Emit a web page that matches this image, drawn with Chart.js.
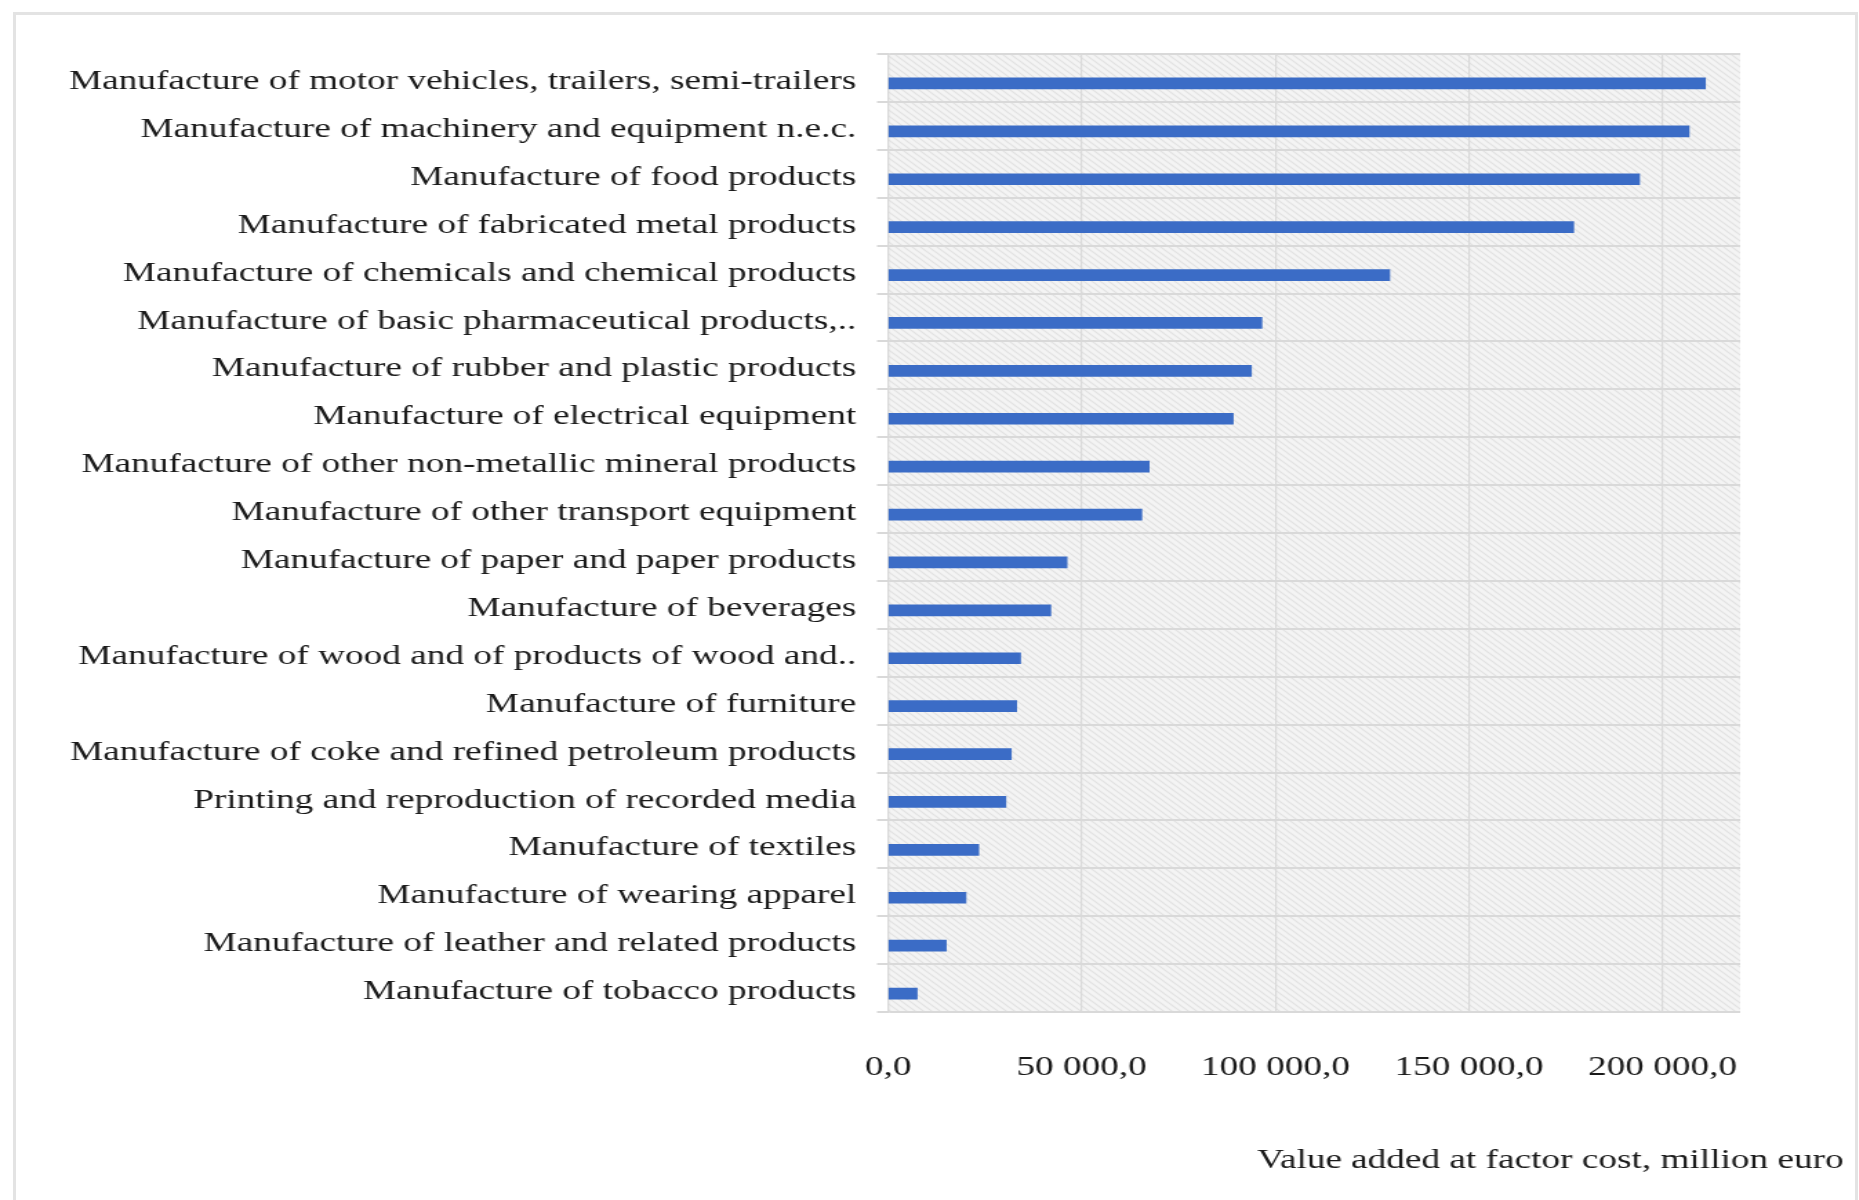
<!DOCTYPE html>
<html>
<head>
<meta charset="utf-8">
<script src="https://cdn.jsdelivr.net/npm/chart.js@4.4.1/dist/chart.umd.min.js"></script>
<style>
  body { margin: 0; background: #ffffff; width: 1859px; height: 1200px; overflow: hidden; position: relative; }
  #chart { position: absolute; left: 0; top: 0; transform: scaleX(1.38); transform-origin: 0 0; }
  #frame { position: absolute; left: 13px; top: 12px; width: 1839px; height: 1300px; border: 3px solid #e3e3e3; pointer-events: none; }
</style>
</head>
<body>
<canvas id="chart" width="1347" height="1200"></canvas>
<div id="frame"></div>
<script>
// industries, top to bottom
const categories = [
    'Manufacture of motor vehicles, trailers, semi-trailers',
    'Manufacture of machinery and equipment n.e.c.',
    'Manufacture of food products',
    'Manufacture of fabricated metal products',
    'Manufacture of chemicals and chemical products',
    'Manufacture of basic pharmaceutical products,..',
    'Manufacture of rubber and plastic products',
    'Manufacture of electrical equipment',
    'Manufacture of other non-metallic mineral products',
    'Manufacture of other transport equipment',
    'Manufacture of paper and paper products',
    'Manufacture of beverages',
    'Manufacture of wood and of products of wood and..',
    'Manufacture of furniture',
    'Manufacture of coke and refined petroleum products',
    'Printing and reproduction of recorded media',
    'Manufacture of textiles',
    'Manufacture of wearing apparel',
    'Manufacture of leather and related products',
    'Manufacture of tobacco products'
];

// value added at factor cost, million euro
const valueAdded = [
    211000, 206800, 194000, 177000, 129500,
    96500, 93800, 89100, 67400, 65500,
    46200, 42000, 34200, 33200, 31800,
    30400, 23400, 20100, 15000, 7500
];

// the source chart has an empty series slot above each bar, so bars sit a bit low
const emptySeries = [];

// value axis
const axisMin = 0;
const axisMax = 220000;
const tickValues = [0, 50000, 100000, 150000, 200000];
const axisTitle = 'Value added at factor cost, million euro';

const serif = 'Liberation Serif';
const textColor = '#1a1a1a';
const gridColor = '#d9d9d9';

function formatTick(v) {
    return String(v).replace(/\B(?=(\d{3})+(?!\d))/g, ' ') + ',0';
}

// hatched grey plot background
const tile = document.createElement('canvas');
tile.width = 6;
tile.height = 6;
const tc = tile.getContext('2d');
tc.fillStyle = '#f4f4f4';
tc.fillRect(0, 0, 6, 6);
tc.strokeStyle = '#e2e2e2';
tc.lineWidth = 1.2;
tc.beginPath();
tc.moveTo(-1, -1); tc.lineTo(7, 7);
tc.moveTo(-1, 5); tc.lineTo(1, 7);
tc.moveTo(5, -1); tc.lineTo(7, 1);
tc.stroke();

const plotBackground = {
    id: 'plotBackground',
    beforeDraw(chart) {
        const a = chart.chartArea;
        const ctx = chart.ctx;
        ctx.save();
        ctx.fillStyle = ctx.createPattern(tile, 'repeat');
        ctx.fillRect(a.left, a.top, a.right - a.left, a.bottom - a.top);
        ctx.restore();
    }
};

const ctx = document.getElementById('chart').getContext('2d');
new Chart(ctx, {
    type: 'bar',
    data: {
        labels: categories,
        datasets: [{
            label: '',
            data: emptySeries,
            barThickness: 11
        }, {
            label: axisTitle,
            data: valueAdded,
            backgroundColor: '#3b6cc6',
            borderWidth: 0,
            barThickness: 11
        }]
    },
    options: {
        indexAxis: 'y',
        responsive: false,
        animation: false,
        devicePixelRatio: 1,
        layout: {
            padding: { top: 54, left: 0, right: 11, bottom: 0 }
        },
        scales: {
            x: {
                type: 'linear',
                min: axisMin,
                max: axisMax,
                grid: {
                    color: gridColor,
                    lineWidth: 1.2,
                    drawTicks: false
                },
                border: { display: false },
                afterBuildTicks(scale) {
                    scale.ticks = tickValues.map(v => ({ value: v }));
                },
                ticks: {
                    padding: 40,
                    maxRotation: 0,
                    color: textColor,
                    font: { family: serif, size: 27 },
                    callback: v => formatTick(v)
                }
            },
            y: {
                type: 'category',
                offset: true,
                grid: {
                    color: gridColor,
                    lineWidth: 2,
                    offset: true,
                    tickLength: 8
                },
                border: { color: gridColor, width: 1.2 },
                ticks: {
                    padding: 15,
                    labelOffset: 4,
                    color: textColor,
                    autoSkip: false,
                    font: { family: serif, size: 27 }
                },
                afterFit(scale) { scale.width = 643.5; }
            },
            // empty axis that only keeps room on the right for the title
            spare: {
                type: 'linear',
                position: 'right',
                grid: { display: false },
                border: { display: false },
                ticks: { display: false },
                afterFit(scale) { scale.width = 75; }
            }
        },
        plugins: {
            legend: { display: false },
            tooltip: { enabled: false },
            title: {
                display: true,
                text: axisTitle,
                position: 'bottom',
                align: 'end',
                color: textColor,
                font: { family: serif, size: 27, weight: 'normal' },
                padding: { top: 19.9, bottom: 23.3 }
            }
        }
    },
    plugins: [plotBackground]
});
</script>
</body>
</html>
